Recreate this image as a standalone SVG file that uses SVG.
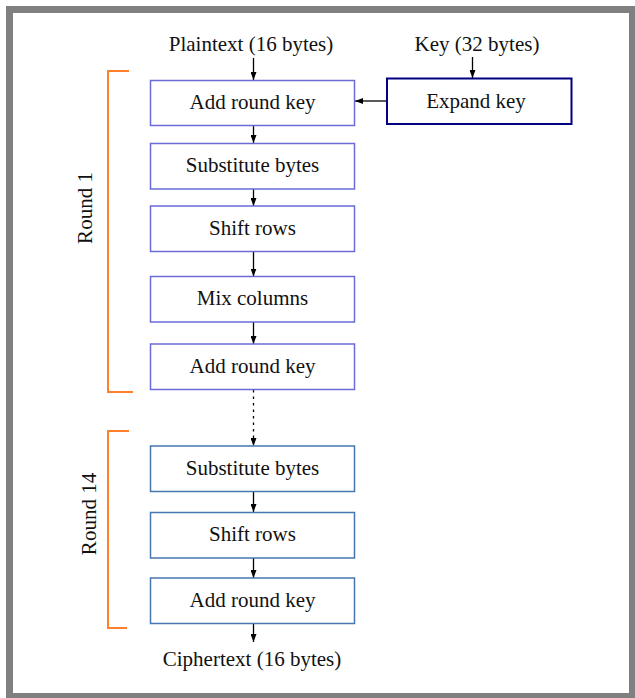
<svg xmlns="http://www.w3.org/2000/svg" width="635" height="698" viewBox="0 0 635 698">
  <style>
    text { font-family: "Liberation Serif", "Times New Roman", serif; font-size: 21px; fill: #111; text-anchor: middle; }
    .r1 { fill: #fff; stroke: #6b6bd8; stroke-width: 1.5; }
    .r14 { fill: #fff; stroke: #4677b0; stroke-width: 1.5; }
    .kx { fill: #fff; stroke: #000080; stroke-width: 2; }
    .edge { stroke: #000; stroke-width: 1.3; fill: none; marker-end: url(#arrow); }
    .dots { stroke-dasharray: 2.5 4; }
    .brace { stroke: #ff7f2a; stroke-width: 2; fill: none; }
  </style>
  <defs>
    <marker id="arrow" viewBox="0 0 8 6" refX="8" refY="3" markerWidth="8" markerHeight="6" markerUnits="userSpaceOnUse" orient="auto">
      <path d="M0,0 L8,3 L0,6 Z" fill="#000"/>
    </marker>
  </defs>

  <!-- page -->
  <rect x="0" y="0" width="635" height="698" fill="#fff"/>
  <rect x="9.5" y="9.5" width="623" height="687" fill="none" stroke="#808080" stroke-width="7"/>

  <!-- inputs and output -->
  <text x="251" y="51">Plaintext (16 bytes)</text>
  <text x="477" y="51">Key (32 bytes)</text>
  <text x="252" y="666">Ciphertext (16 bytes)</text>

  <!-- round brackets -->
  <g id="round1">
    <polyline class="brace" points="129,71 108,71 108,392 133,392"/>
    <text transform="translate(92,208) rotate(-90)">Round 1</text>
  </g>
  <g id="round14">
    <polyline class="brace" points="129,431 108,431 108,628 127,628"/>
    <text transform="translate(96,514) rotate(-90)">Round 14</text>
  </g>

  <g id="connectors">
    <line class="edge" x1="253.5" y1="58" x2="253.5" y2="80"/>
    <line class="edge" x1="472.5" y1="57" x2="472.5" y2="78"/>
    <line class="edge" x1="387" y1="101" x2="355" y2="101"/>
    <line class="edge" x1="253.5" y1="126" x2="253.5" y2="143"/>
    <line class="edge" x1="253.5" y1="189" x2="253.5" y2="206"/>
    <line class="edge" x1="253.5" y1="251.5" x2="253.5" y2="276.5"/>
    <line class="edge" x1="253.5" y1="322" x2="253.5" y2="344"/>
    <line class="edge dots" x1="253.5" y1="390" x2="253.5" y2="446"/>
    <line class="edge" x1="253.5" y1="492" x2="253.5" y2="512"/>
    <line class="edge" x1="253.5" y1="558" x2="253.5" y2="578"/>
    <line class="edge" x1="253.5" y1="624" x2="253.5" y2="642"/>
  </g>

  <g id="expand-key">
    <rect class="kx" x="387" y="78.5" width="184.5" height="45.5"/>
    <text x="476" y="108">Expand key</text>
  </g>

  <g id="add-round-key-1">
    <rect class="r1" x="150.5" y="80.5" width="204" height="45"/>
    <text x="252.5" y="108.5">Add round key</text>
  </g>
  <g id="substitute-bytes-1">
    <rect class="r1" x="150.5" y="143.5" width="204" height="45.5"/>
    <text x="252.5" y="171.5">Substitute bytes</text>
  </g>
  <g id="shift-rows-1">
    <rect class="r1" x="150.5" y="206" width="204" height="45.5"/>
    <text x="252.5" y="234.5">Shift rows</text>
  </g>
  <g id="mix-columns-1">
    <rect class="r1" x="150.5" y="276.5" width="204" height="45.5"/>
    <text x="252.5" y="304.5">Mix columns</text>
  </g>
  <g id="add-round-key-2">
    <rect class="r1" x="150.5" y="344" width="204" height="45.5"/>
    <text x="252.5" y="372.5">Add round key</text>
  </g>

  <g id="substitute-bytes-14">
    <rect class="r14" x="150.5" y="446" width="204" height="45.5"/>
    <text x="252.5" y="474.5">Substitute bytes</text>
  </g>
  <g id="shift-rows-14">
    <rect class="r14" x="150.5" y="512.5" width="204" height="45.5"/>
    <text x="252.5" y="540.5">Shift rows</text>
  </g>
  <g id="add-round-key-14">
    <rect class="r14" x="150.5" y="578" width="204" height="45.5"/>
    <text x="252.5" y="606.5">Add round key</text>
  </g>
</svg>
